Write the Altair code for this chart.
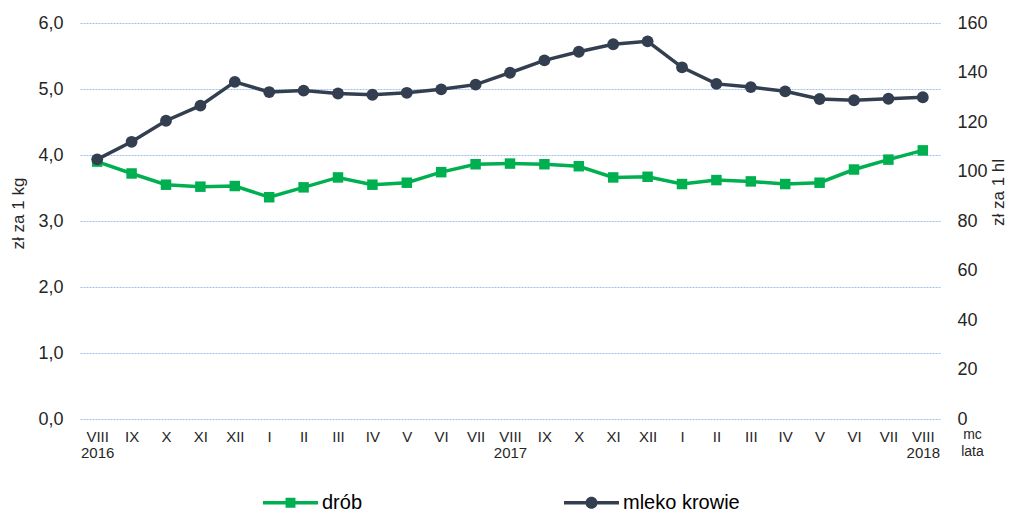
import altair as alt
import pandas as pd

months = ["VIII", "IX", "X", "XI", "XII", "I", "II", "III", "IV", "V", "VI", "VII",
          "VIII", "IX", "X", "XI", "XII", "I", "II", "III", "IV", "V", "VI", "VII", "VIII"]
years = ["2016", "", "", "", "", "", "", "", "", "", "", "",
         "2017", "", "", "", "", "", "", "", "", "", "", "", "2018"]
drob = [3.90, 3.72, 3.55, 3.52, 3.53, 3.36, 3.51, 3.66, 3.55, 3.58, 3.74, 3.86,
        3.87, 3.86, 3.83, 3.66, 3.67, 3.56, 3.62, 3.60, 3.56, 3.58, 3.78, 3.93, 4.07]
mleko = [104.9, 112.0, 120.5, 126.6, 136.2, 132.1, 132.7, 131.5, 131.0, 131.8, 133.2, 135.1,
         139.9, 144.9, 148.4, 151.4, 152.6, 142.1, 135.4, 134.1, 132.4, 129.3, 128.8, 129.4, 130.0]
series_names = ["drób", "mleko krowie"]
series_colors = ["#00B050", "#333F50"]
left_ticks = [0, 1, 2, 3, 4, 5, 6]
right_ticks = [0, 20, 40, 60, 80, 100, 120, 140, 160]

keys = [f"{i}|{m}|{y}" for i, (m, y) in enumerate(zip(months, years))]
df = pd.DataFrame({"key": keys, "drob": drob, "mleko": mleko})

FONT = "Liberation Sans"
TXT = "#262626"

x_enc = alt.X(
    "key:N",
    sort=keys,
    scale=alt.Scale(type="point", padding=0.5),
    axis=alt.Axis(
        labelExpr="split(datum.label,'|')[2] ? [split(datum.label,'|')[1], split(datum.label,'|')[2]] : split(datum.label,'|')[1]",
        labelAngle=0, labelFontSize=15, labelLineHeight=16, labelPadding=10,
        labelColor=TXT, labelFont=FONT,
        domain=False, ticks=False, grid=False,
        title=["mc", "lata"], titleFont=FONT, titleFontSize=14, titleFontWeight="normal",
        titleColor=TXT, titleX=892, titleY=8, titleAlign="center", titleBaseline="top",
        titleLineHeight=17,
    ),
)

drob_layer = alt.Chart(df).mark_line(
    color=series_colors[0], strokeWidth=3.5,
    point=alt.OverlayMarkDef(shape="square", size=110, filled=True, color=series_colors[0], opacity=1),
).encode(
    x=x_enc,
    y=alt.Y("drob:Q", scale=alt.Scale(domain=[0, 6], nice=False, zero=True),
            axis=alt.Axis(orient="left", values=left_ticks,
                          labelExpr="replace(format(datum.value, '.1f'), '.', ',')",
                          labelFontSize=18, labelFont=FONT, labelColor=TXT, labelPadding=17,
                          domain=False, ticks=False,
                          grid=True, gridColor="#9CC0F0", gridOpacity=1, gridDash=[2, 1], gridWidth=1,
                          title="zł za 1 kg", titleFont=FONT, titleFontSize=17, titleFontWeight="normal",
                          titleColor=TXT, titleAngle=-90, titleX=-62, titleY=190,
                          titleAlign="center", titleBaseline="middle")),
)

mleko_layer = alt.Chart(df).mark_line(
    color=series_colors[1], strokeWidth=3.5,
    point=alt.OverlayMarkDef(shape="circle", size=140, filled=True, color=series_colors[1], opacity=1),
).encode(
    x=x_enc,
    y=alt.Y("mleko:Q", scale=alt.Scale(domain=[0, 160], nice=False, zero=True),
            axis=alt.Axis(orient="right", values=right_ticks, format="d",
                          labelFontSize=18, labelFont=FONT, labelColor=TXT, labelPadding=17,
                          domain=False, ticks=False, grid=False,
                          title="zł za 1 hl", titleFont=FONT, titleFontSize=17, titleFontWeight="normal",
                          titleColor=TXT, titleAngle=-90, titleX=58, titleY=169,
                          titleAlign="center", titleBaseline="middle")),
)

line_part = "M-1,-0.064L1,-0.064L1,0.064L-1,0.064Z"
sq_part = "M-0.18,-0.18L0.18,-0.18L0.18,0.18L-0.18,0.18Z"
circ_part = "M0.22,0A0.22,0.22 0 1,1 -0.22,0A0.22,0.22 0 1,1 0.22,0Z"
legend_df = pd.DataFrame({"series": series_names})

leg = dict(orient="none", legendX=183, legendY=452,
           direction="horizontal", title=None,
           labelFont=FONT, labelFontSize=20, labelColor="#000000",
           labelOffset=4, columnPadding=201, padding=0,
           symbolSize=3025, symbolStrokeWidth=0, symbolOpacity=1)

legend_layer = alt.Chart(legend_df).transform_filter("false").mark_point(
    filled=True, opacity=1, size=3025
).encode(
    color=alt.Color("series:N",
                    scale=alt.Scale(domain=series_names, range=series_colors),
                    legend=alt.Legend(**leg)),
    shape=alt.Shape("series:N",
                    scale=alt.Scale(domain=series_names,
                                    range=[line_part + " " + sq_part, line_part + " " + circ_part]),
                    legend=alt.Legend(**leg)),
)

chart = alt.layer(drob_layer, mleko_layer, legend_layer).resolve_scale(
    y="independent"
).properties(
    width=860, height=396,
    autosize=alt.AutoSizeParams(type="none"),
    padding={"left": 72, "top": 15, "right": 69, "bottom": 94},
    background="white",
).configure_view(stroke=None)

chart.save("out.html", embed_options={"renderer": "svg", "actions": False})
